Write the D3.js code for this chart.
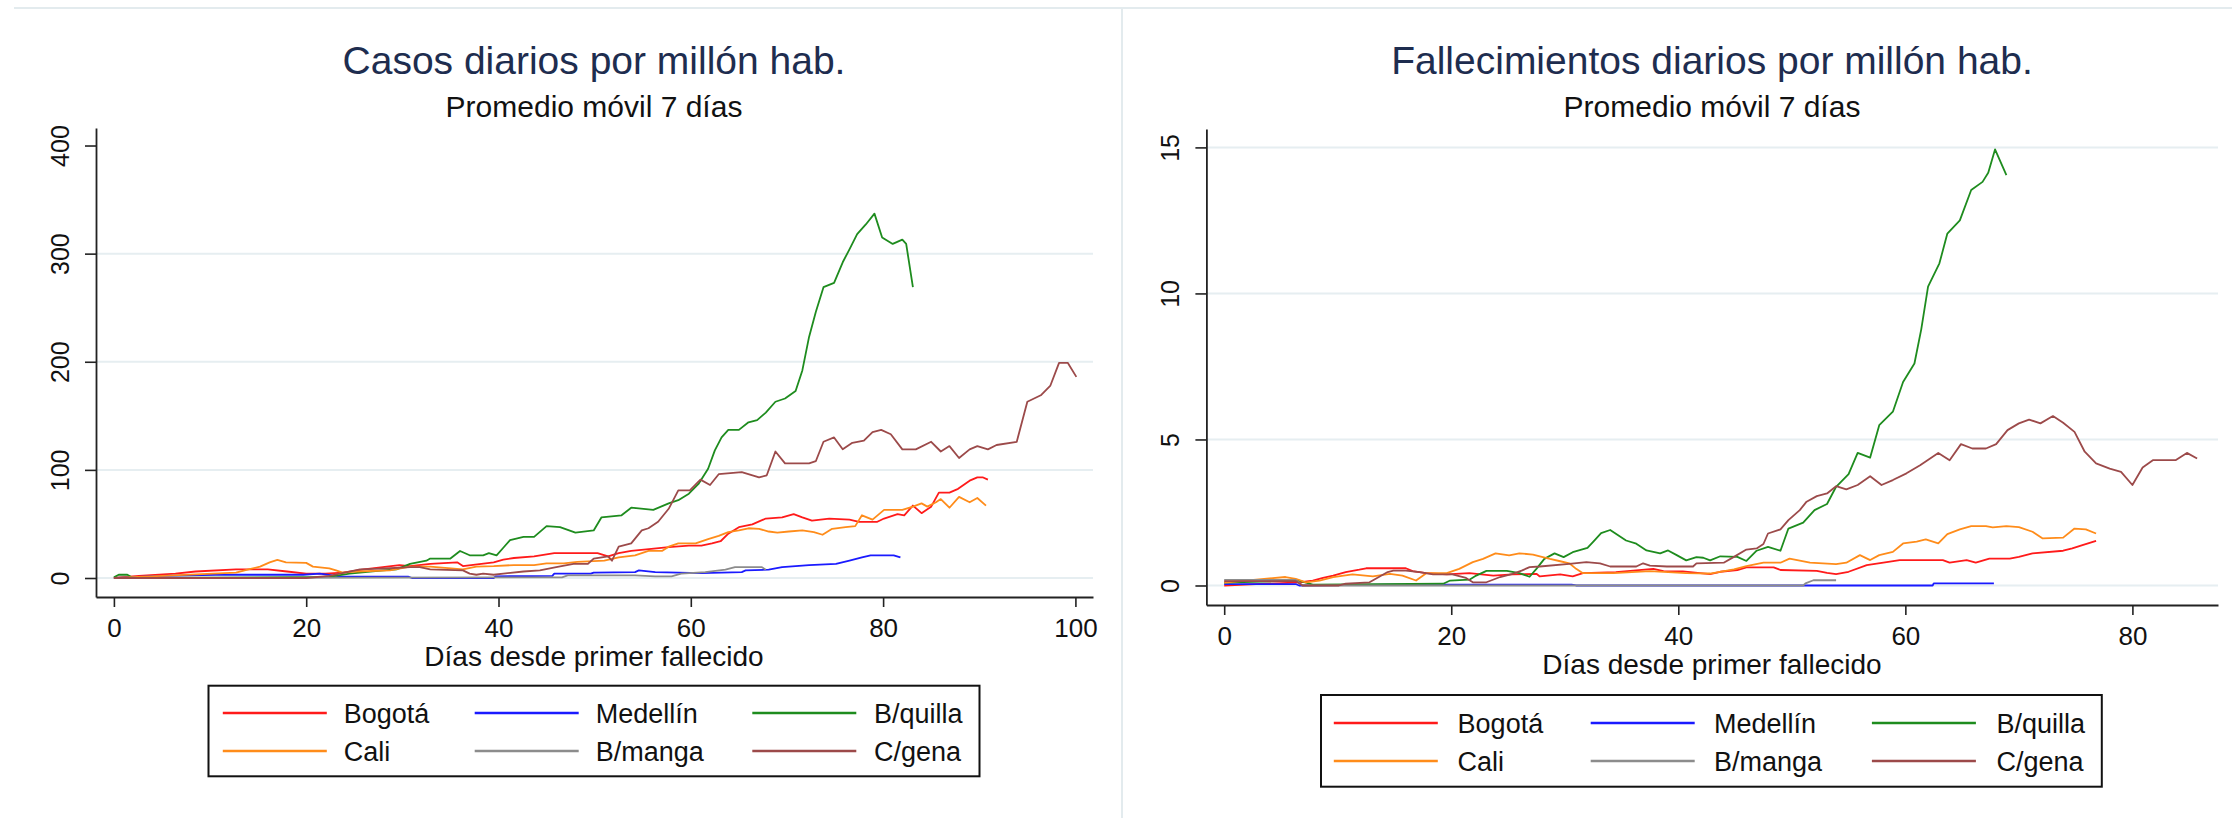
<!DOCTYPE html>
<html>
<head>
<meta charset="utf-8">
<script src="https://cdn.jsdelivr.net/npm/d3@7"></script>
<style>
  body { margin: 0; background: #fff; }
  text { font-family: "Liberation Sans", Arial, sans-serif; }
</style>
</head>
<body>
<svg id="chart" width="2232" height="818"></svg>
<script>
/* Values: [day, value] pairs, 7-day moving averages. */

var city_names = ["Bogotá", "Medellín", "B/quilla", "Cali", "B/manga", "C/gena"];
var city_colors = ["#ff1a1a", "#1a1aff", "#1e8c1e", "#ff8c1a", "#8c8c8c", "#9c4a4a"];

// Casos diarios por millón hab.
var casos_bogota = [[0,0],[2.6,2],[6.4,4],[8.5,6],[12.7,8],[16,8],[18,6],[20,4],[22,4],[23.8,5],[26,8],[29.7,12],[30.8,11],[32.9,13],[35.7,14.5],[36.3,11],[39.5,14.5],[40.5,17],[41.6,18.5],[43.7,20],[45.8,23],[50.3,23],[51.4,20],[52.5,23],[53.8,25],[55.9,27],[57.7,28.6],[59.8,30],[61.1,30],[62.2,32],[63.1,34],[63.9,41],[65,47],[66.4,49.6],[67.8,55],[69.5,56],[70.7,59],[71.6,56],[72.6,53],[74.4,55],[76.5,54],[77.5,52],[79.4,52],[80.1,55],[81.5,59],[82.2,58],[83.1,67],[84,60],[85,66],[85.8,79],[86.9,79],[87.8,82.5],[89,90],[89.8,93],[90.4,93],[90.9,91]];
var casos_medellin = [[0,0],[5,2],[10.6,3],[19.7,3],[21.4,4],[23.5,1.5],[30.6,1.2],[31,0],[39.5,0],[39.7,1.5],[45.6,2],[45.8,4],[49.6,4],[49.9,5],[54.2,5.5],[54.6,7],[56.3,5.5],[61.1,4.6],[65.3,5.5],[65.7,7],[68.1,7.7],[69.5,10],[72.3,12],[75.1,13],[76.5,16],[77.8,19],[78.7,21],[81.1,21],[81.8,19]];
var casos_bquilla = [[0,0.6],[0.5,3],[1.4,3],[2,0],[22.4,1],[24.5,4],[25.6,5],[28,7],[29.4,8],[30.8,13],[32.5,16],[32.9,18],[35,18],[36,25],[37,21],[38.4,21],[39,23],[39.8,21],[40.5,28],[41.2,35],[42.6,38],[43.7,38],[45,48],[46.4,47],[48,42],[49.9,44],[50.7,56],[52.8,58],[53.8,65],[56.1,63],[57.7,69],[58.7,72],[59.8,78],[60.8,87],[61.8,101],[62.5,118],[63.2,130],[63.9,137],[65,137],[66,144],[66.9,146],[67.8,153],[68.8,163],[69.8,166],[70.9,173],[71.6,192],[72.3,223],[73,246],[73.8,269],[74.9,273],[75.8,292],[76.5,304],[77.3,318],[78.2,327],[79.1,337],[79.9,315],[81,309],[82,313],[82.4,309],[83.1,269]];
var casos_cali = [[0,0],[5,2],[10.3,4],[12.7,5],[14,8],[15.2,10.5],[16.2,14.5],[17,16.7],[17.9,14.5],[20,14],[20.7,10.5],[22.4,9],[23.1,7],[23.8,5],[25.2,6],[28.7,7],[30.8,10.5],[32.9,10.5],[36.3,8],[37.7,10.5],[39.5,11],[41.6,12],[43.7,12],[45,13.5],[46.8,13.5],[48.2,15],[51,16],[52.5,19],[54.2,21],[55.6,25],[57,25],[57.7,29],[58.7,32],[60.5,32],[61.8,36],[62.9,39],[63.9,42.5],[65,44],[66,46],[67.1,45.5],[68.1,43],[69,42],[70.2,43],[71.6,44],[72.8,42.5],[73.7,40],[74.7,45.5],[76.1,47],[77.1,48],[77.8,58],[78.9,54],[80.1,63],[82,63],[83.1,66],[84,69],[84.6,66],[85.5,70],[86,73],[86.9,65],[87.9,75],[89,70],[89.8,74],[90.7,67]];
var casos_bmanga = [[0,0],[46.6,0.6],[47.2,2.5],[54.2,2.5],[56.3,1.5],[58,1.5],[59,4],[61.5,5.5],[63.6,7.7],[64.6,10],[67.4,10],[67.8,7.7]];
var casos_cgena = [[0,0],[20,0],[22.4,2],[24.5,6],[25.6,8],[28.7,9],[30.8,10],[31.8,10],[32.9,8],[36.3,7],[37,4],[37.7,3],[38.4,4],[39.5,3],[40.5,4],[42.6,6],[44.3,7],[46,10],[47.8,13],[49.3,13],[49.9,18],[51.4,20],[51.8,16],[52.5,29],[53.8,32],[54.9,44],[55.6,46],[56.6,52],[57.7,64],[58.7,81],[59.9,81],[61,91],[62,86],[62.9,96],[65.3,98],[67.1,93],[67.9,95],[68.8,117],[69.8,106],[72.3,106],[73,108],[73.8,126],[74.9,130],[75.8,119],[76.8,125],[78,127],[78.9,135],[79.8,137],[80.8,133],[82,119],[83.4,119],[85,126],[86,117],[86.9,122],[87.9,111],[89,119],[89.8,122],[90.9,119],[91.8,123],[93.9,126],[95,163],[96.4,169],[97.4,178],[98.3,199],[99.2,199],[100.1,186]];

// Fallecimientos diarios por millón hab.
var fallec_bogota = [[0,0],[6.6,0.11],[7.8,0.17],[8.7,0.26],[9.6,0.34],[10.7,0.46],[11.9,0.54],[12.5,0.59],[16,0.59],[16.6,0.49],[17.8,0.42],[19.6,0.38],[21.6,0.42],[23.7,0.34],[25.4,0.38],[27.5,0.4],[27.8,0.31],[29.6,0.38],[30.7,0.31],[31.6,0.42],[34.5,0.46],[37.8,0.57],[38.7,0.49],[40.4,0.48],[42.8,0.39],[43.7,0.47],[45.2,0.53],[46,0.62],[48.4,0.62],[49,0.53],[52.2,0.5],[53.1,0.43],[53.9,0.39],[55,0.47],[56.6,0.7],[58.5,0.81],[59.5,0.87],[63.3,0.87],[63.9,0.78],[65.4,0.87],[66.2,0.78],[67.4,0.92],[69.2,0.92],[70,0.98],[71.2,1.1],[73.9,1.19],[74.7,1.27],[75.6,1.38],[76.8,1.53]];
var fallec_medellin = [[0,0.05],[6.3,0.05],[6.6,0],[14.4,0.03],[30.6,0.03],[31,0],[62.4,0],[62.5,0.07],[67.8,0.07]];
var fallec_bquilla = [[0,0.1],[6.6,0.17],[7.8,0.03],[19.3,0.06],[19.9,0.17],[21.6,0.2],[22.2,0.34],[23.1,0.5],[24.9,0.5],[26,0.42],[26.9,0.3],[27.5,0.57],[28.2,0.91],[29.1,1.1],[29.9,0.97],[30.7,1.14],[32,1.29],[32.6,1.54],[33.2,1.79],[34,1.9],[34.5,1.77],[35.4,1.54],[36.3,1.43],[37.2,1.2],[38.4,1.1],[39.1,1.2],[39.9,1.03],[40.7,0.86],[41.6,0.97],[42.2,0.95],[42.8,0.86],[43.7,1.0],[45.2,0.98],[46,0.84],[46.9,1.19],[47.9,1.32],[49,1.19],[49.7,1.95],[51,2.15],[52,2.58],[53.1,2.79],[53.9,3.38],[55,3.81],[55.8,4.54],[56.9,4.38],[57.7,5.49],[58.9,5.95],[59.8,6.97],[60.8,7.6],[61.4,8.77],[62,10.23],[63,11.03],[63.7,12.05],[64.8,12.5],[65.8,13.54],[66.8,13.82],[67.3,14.13],[67.9,14.93],[68.9,14.05]];
var fallec_cali = [[0,0.1],[5.4,0.29],[6.3,0.23],[7.2,0.11],[8.4,0.17],[9.6,0.29],[11.3,0.38],[13.1,0.31],[14.6,0.4],[15.7,0.34],[16.9,0.17],[17.8,0.42],[19.6,0.42],[20.7,0.57],[21.9,0.8],[22.8,0.91],[23.9,1.1],[25.1,1.03],[26,1.1],[27.2,1.06],[27.8,1.0],[28.7,0.91],[29.6,0.83],[30.4,0.76],[31,0.57],[31.6,0.42],[34.3,0.42],[37.5,0.49],[40.7,0.42],[42.8,0.41],[44.9,0.55],[46,0.66],[47.5,0.78],[49,0.78],[49.8,0.92],[51.6,0.78],[53.9,0.73],[54.8,0.78],[56,1.04],[56.9,0.87],[57.7,1.04],[58.9,1.15],[59.8,1.44],[61,1.5],[61.8,1.58],[62.9,1.44],[63.7,1.76],[64.8,1.92],[65.8,2.03],[67.1,2.03],[67.7,1.99],[68.9,2.03],[70,2.0],[71.2,1.84],[72.1,1.61],[73.9,1.64],[74.9,1.95],[75.9,1.92],[76.8,1.78]];
var fallec_bmanga = [[0,0.19],[6.3,0.19],[6.9,0],[51,0],[51.2,0.07],[51.9,0.18],[53.9,0.18]];
var fallec_cgena = [[0,0.15],[6.3,0.15],[6.9,0],[10.1,0],[10.7,0.06],[12.8,0.11],[13.7,0.31],[14.4,0.46],[14.9,0.51],[16,0.51],[17.2,0.46],[18.4,0.38],[20.1,0.38],[21.3,0.26],[21.9,0.11],[23.1,0.11],[24.3,0.29],[25.4,0.4],[26.2,0.51],[26.9,0.63],[27.8,0.65],[30.4,0.74],[31.9,0.8],[33.1,0.76],[34,0.65],[36.3,0.65],[36.9,0.76],[37.5,0.68],[39,0.65],[41.3,0.65],[41.6,0.76],[44,0.78],[44.9,0.98],[46,1.23],[46.9,1.27],[47.5,1.42],[47.9,1.78],[49,1.92],[49.7,2.24],[50.7,2.58],[51.3,2.87],[52.2,3.06],[53.1,3.15],[53.9,3.4],[54.8,3.29],[55.8,3.44],[56.9,3.74],[57.9,3.44],[58.9,3.61],[60.1,3.84],[61.3,4.12],[62.9,4.54],[63.9,4.29],[64.9,4.84],[65.9,4.69],[67.1,4.69],[68,4.84],[69,5.32],[70,5.55],[70.9,5.68],[71.9,5.55],[73,5.8],[73.9,5.57],[74.9,5.26],[75.8,4.58],[76.8,4.18],[78,4.0],[79,3.89],[80,3.44],[80.9,4.04],[81.8,4.29],[83.8,4.29],[84.8,4.54],[85.7,4.35]];

var casos_ticks_x = [0, 20, 40, 60, 80, 100];
var casos_ticks_y = [0, 100, 200, 300, 400];
var casos_grid_y = [0, 100, 200, 300];
var fallec_ticks_x = [0, 20, 40, 60, 80];
var fallec_ticks_y = [0, 5, 10, 15];
var fallec_grid_y = [0, 5, 10, 15];

var subtitle = "Promedio móvil 7 días";
var x_title = "Días desde primer fallecido";

var svg = d3.select("#chart");

// light frame of the two exported graphs
svg.append("line").attr("x1", 14).attr("x2", 2232).attr("y1", 8).attr("y2", 8)
   .attr("stroke", "#e3ebee").attr("stroke-width", 2);
svg.append("line").attr("x1", 1122).attr("x2", 1122).attr("y1", 8).attr("y2", 818)
   .attr("stroke", "#e3ebee").attr("stroke-width", 2);

function draw_panel(p){
  var g = svg.append("g");
  var x = d3.scaleLinear().domain(p.xdom).range(p.xrange);
  var y = d3.scaleLinear().domain(p.ydom).range(p.yrange);
  var cx = p.center;

  g.append("text").attr("x", cx).attr("y", 74)
   .attr("text-anchor", "middle").attr("font-size", 39).attr("fill", "#1e2d4f")
   .text(p.title);
  g.append("text").attr("x", cx).attr("y", 117)
   .attr("text-anchor", "middle").attr("font-size", 30).attr("fill", "#111")
   .text(subtitle);

  // gridlines
  g.selectAll(".grid").data(p.grid).enter().append("line")
   .attr("x1", p.xrange[0]).attr("x2", p.xrange[1])
   .attr("y1", function(d){ return y(d); }).attr("y2", function(d){ return y(d); })
   .attr("stroke", "#e6eef1").attr("stroke-width", 2);

  // series, in Stata drawing order
  var line = d3.line()
    .x(function(d){ return x(d[0]); })
    .y(function(d){ return y(d[1]); });
  p.series.forEach(function(s, i){
    g.append("path").datum(s)
     .attr("d", line)
     .attr("fill", "none")
     .attr("stroke", city_colors[i])
     .attr("stroke-width", 1.8)
     .attr("stroke-linejoin", "round");
  });

  // axes
  var xa = g.append("g").attr("transform", "translate(0," + p.yrange[0] + ")")
    .call(d3.axisBottom(x).tickValues(p.xticks).tickSize(10).tickSizeOuter(0));
  xa.selectAll("text").attr("y", 31).attr("dy", "0.36em")
    .attr("font-size", 26).attr("fill", "#111").style("font-family", "Liberation Sans, Arial, sans-serif");

  var ya = g.append("g").attr("transform", "translate(" + p.xrange[0] + ",0)")
    .call(d3.axisLeft(y).tickValues(p.yticks).tickSize(11).tickSizeOuter(0));
  ya.selectAll("text").attr("x", null).attr("y", null)
    .attr("transform", "translate(-36,0) rotate(-90)")
    .attr("text-anchor", "middle").attr("dy", "0.36em")
    .attr("font-size", 25).attr("fill", "#111").style("font-family", "Liberation Sans, Arial, sans-serif");

  [xa, ya].forEach(function(a){
    a.select(".domain").attr("stroke", "#222").attr("stroke-width", 1.8);
    a.selectAll(".tick line").attr("stroke", "#222").attr("stroke-width", 1.6);
  });

  g.append("text").attr("x", cx).attr("y", p.yrange[0] + 69)
   .attr("text-anchor", "middle").attr("font-size", 28).attr("fill", "#111")
   .text(x_title);

  // legend
  var L = p.legend;
  g.append("rect").attr("x", L.x).attr("y", L.y).attr("width", L.w).attr("height", L.h)
   .attr("fill", "#fff").attr("stroke", "#111").attr("stroke-width", 2);
  city_names.forEach(function(name, i){
    var col = i % 3, row = Math.floor(i / 3);
    var ly = L.rows[row];
    g.append("line")
     .attr("x1", L.lines[col]).attr("x2", L.lines[col] + 104)
     .attr("y1", ly).attr("y2", ly)
     .attr("stroke", city_colors[i]).attr("stroke-width", 2.4);
    g.append("text").attr("x", L.labels[col]).attr("y", ly + 10)
     .attr("font-size", 27).attr("fill", "#111")
     .text(name);
  });
}

draw_panel({
  title: "Casos diarios por millón hab.",
  center: 594,
  xdom: [-1.862, 101.83], xrange: [96, 1093],
  ydom: [-17.57, 416.2], yrange: [597, 128],
  xticks: casos_ticks_x, yticks: casos_ticks_y, grid: casos_grid_y,
  series: [casos_bogota, casos_medellin, casos_bquilla, casos_cali, casos_bmanga, casos_cgena],
  legend: {x: 208.5, y: 685.7, w: 771, h: 90.6, rows: [713, 751],
           lines: [222.8, 474.7, 752.3], labels: [343.8, 595.7, 874]}
});

draw_panel({
  title: "Fallecimientos diarios por millón hab.",
  center: 1712,
  xdom: [-1.568, 87.54], xrange: [1206.4, 2218],
  ydom: [-0.668, 15.63], yrange: [605, 129],
  xticks: fallec_ticks_x, yticks: fallec_ticks_y, grid: fallec_grid_y,
  series: [fallec_bogota, fallec_medellin, fallec_bquilla, fallec_cali, fallec_bmanga, fallec_cgena],
  legend: {x: 1321, y: 695, w: 780.8, h: 91.7, rows: [723, 761],
           lines: [1333.8, 1590.7, 1871.9], labels: [1457.6, 1713.9, 1996.4]}
});
</script>
</body>
</html>
